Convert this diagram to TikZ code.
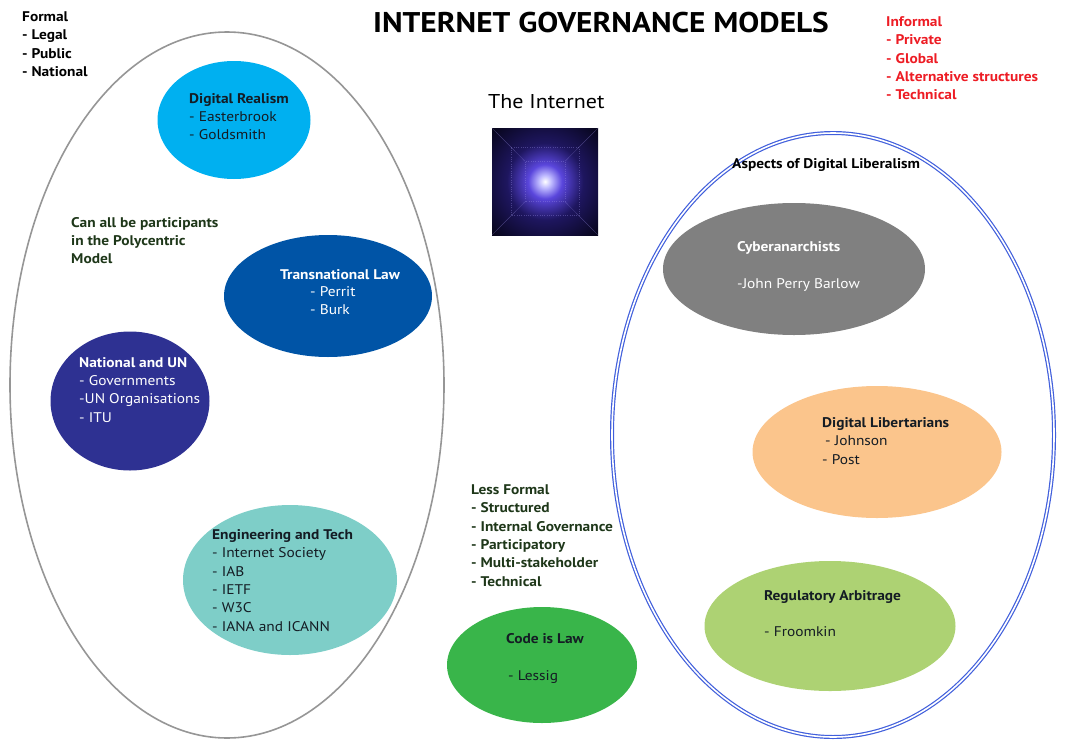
\documentclass[tikz,border=0pt]{standalone}
\usepackage{fontspec}
\setmainfont{PT Sans}[FakeStretch=1.1]
\usetikzlibrary{shapes.geometric, calc}

\definecolor{ringgray}{RGB}{150,150,150}
\definecolor{ringblue}{RGB}{65,95,220}
\definecolor{realismcol}{RGB}{0,176,240}
\definecolor{transcol}{RGB}{0,84,166}
\definecolor{nationcol}{RGB}{46,49,146}
\definecolor{engcol}{RGB}{126,206,200}
\definecolor{codecol}{RGB}{57,181,74}
\definecolor{cybercol}{RGB}{128,128,128}
\definecolor{libertcol}{RGB}{251,197,140}
\definecolor{regcol}{RGB}{173,210,115}
\definecolor{informred}{RGB}{237,28,36}
\definecolor{notegreen}{RGB}{30,55,25}
\definecolor{darktext}{RGB}{20,28,36}
\definecolor{glowa}{RGB}{190,185,255}
\definecolor{glowb}{RGB}{90,70,220}
\definecolor{glowc}{RGB}{30,22,95}
\definecolor{glowd}{RGB}{8,6,30}

\pgfdeclareradialshading{netglow}{\pgfpoint{0bp}{0bp}}{%
  color(0bp)=(white); color(3bp)=(glowa); color(8bp)=(glowb);
  color(18bp)=(glowc); color(34bp)=(glowd); color(50bp)=(black)}

\begin{document}
\begin{tikzpicture}[x=1pt, y=-1pt,
    bubble/.style={ellipse, draw=none, inner sep=0},
    txt/.style={anchor=north west, align=left, inner sep=0,
                font=\fontsize{14}{18.3}\selectfont},
    hd/.style={txt, font=\fontsize{14}{18.3}\selectfont\bfseries},
    one/.style={anchor=base west, inner sep=0,
                font=\fontsize{14}{18.3}\selectfont}]
	\useasboundingbox (0,0) rectangle (1068,755);
	
	% Outer models
	\node (formal) at (227,385)
	      [ellipse, draw=ringgray, line width=1.6pt,
	       minimum width=434, minimum height=706] {};
	\node (liberal) at (833,435)
	      [ellipse, draw=ringblue, line width=1.2pt, double, double distance=1.6pt,
	       minimum width=442, minimum height=604] {};
	
	% Model bubbles
	\node (realism) at (234,120) [bubble, fill=realismcol, minimum width=153, minimum height=118] {};
	\node (transnat) at (328,296) [bubble, fill=transcol, minimum width=208, minimum height=122] {};
	\node (nation) at (130,401) [bubble, fill=nationcol, minimum width=159, minimum height=139] {};
	\node (engtech) at (290,580) [bubble, fill=engcol, minimum width=214, minimum height=150] {};
	\node (codelaw) at (542,665) [bubble, fill=codecol, minimum width=190, minimum height=116] {};
	\node (cyber) at (794,269) [bubble, fill=cybercol, minimum width=262, minimum height=132] {};
	\node (libert) at (877,452) [bubble, fill=libertcol, minimum width=249, minimum height=132] {};
	\node (regarb) at (830,626) [bubble, fill=regcol, minimum width=251, minimum height=130] {};
	
	% The Internet picture
	\node (web) at (545,181.5)
	      [inner sep=0, minimum width=106, minimum height=107, shading=netglow] {};
	\foreach \c in {north west, north east, south west, south east}{
		\draw [glowb!60!white, line width=0.3pt, opacity=0.45]
		      (web.\c) -- ($(web.\c)!0.62!(web.center)$);
	}
	\foreach \s in {20,34}{
		\draw [glowb!60!white, line width=0.3pt, opacity=0.35, dotted]
		      ([shift={(-\s,-\s)}] web.center) rectangle ([shift={(\s,\s)}] web.center);
	}
	
	% Headings
	\node (title) at (601,32) [anchor=base, inner sep=0,
	      font=\fontsize{28.5}{32}\selectfont\bfseries] {INTERNET GOVERNANCE MODELS};
	\node (nettitle) at (488,108) [anchor=base west, inner sep=0,
	      font=\fontsize{20}{24}\selectfont] {The Internet};
	\node (formalist) at (22,11.5) [hd] {Formal\\- Legal\\- Public\\- National};
	\node (informlist) at (886,16.5) [hd, text=informred]
	      {Informal\\- Private\\- Global\\- Alternative structures\\- Technical};
	\node (aspects) at (732,158.5) [hd] {Aspects of Digital Liberalism};
	\node (polynote) at (71,217) [hd, text=notegreen]
	      {Can all be participants\\in the Polycentric\\Model};
	\node (lessformal) at (471,484.5) [hd, text=notegreen]
	      {Less Formal\\- Structured\\- Internal Governance\\- Participatory\\- Multi-stakeholder\\- Technical};
	
	% Bubble texts
	\node (realismtxt) at (189,93) [txt, text=darktext]
	      {{\bfseries Digital Realism}\\- Easterbrook\\- Goldsmith};
	\node (transhd) at (340,279) [anchor=base, inner sep=0, text=white,
	      font=\fontsize{14}{18.3}\selectfont\bfseries] {Transnational Law};
	\node (transtxt) at (310,286.5) [txt, text=white] {- Perrit\\- Burk};
	\node (nationtxt) at (79,357) [txt, text=white]
	      {{\bfseries National and UN}\\- Governments\\-UN Organisations\\- ITU};
	\node (engtxt) at (212,529.5) [txt, text=darktext]
	      {{\bfseries Engineering and Tech}\\- Internet Society\\- IAB\\- IETF\\- W3C\\- IANA and ICANN};
	\node (codehd) at (545,643) [anchor=base, inner sep=0, text=darktext,
	      font=\fontsize{14}{18.3}\selectfont\bfseries] {Code is Law};
	\node (codetxt) at (508,680) [one, text=darktext] {- Lessig};
	\node (cyberhd) at (737,251) [one, text=white, font=\fontsize{14}{18.3}\selectfont\bfseries] {Cyberanarchists};
	\node (cybertxt) at (737,288) [one, text=white] {-John Perry Barlow};
	\node (liberttxt) at (822,417.5) [txt, text=darktext]
	      {{\bfseries Digital Libertarians}\\\hspace{3pt}- Johnson\\- Post};
	\node (reghd) at (764,600.5) [one, text=darktext, font=\fontsize{14}{18.3}\selectfont\bfseries] {Regulatory Arbitrage};
	\node (regtxt) at (764,636.5) [one, text=darktext] {- Froomkin};
\end{tikzpicture}
\end{document}
